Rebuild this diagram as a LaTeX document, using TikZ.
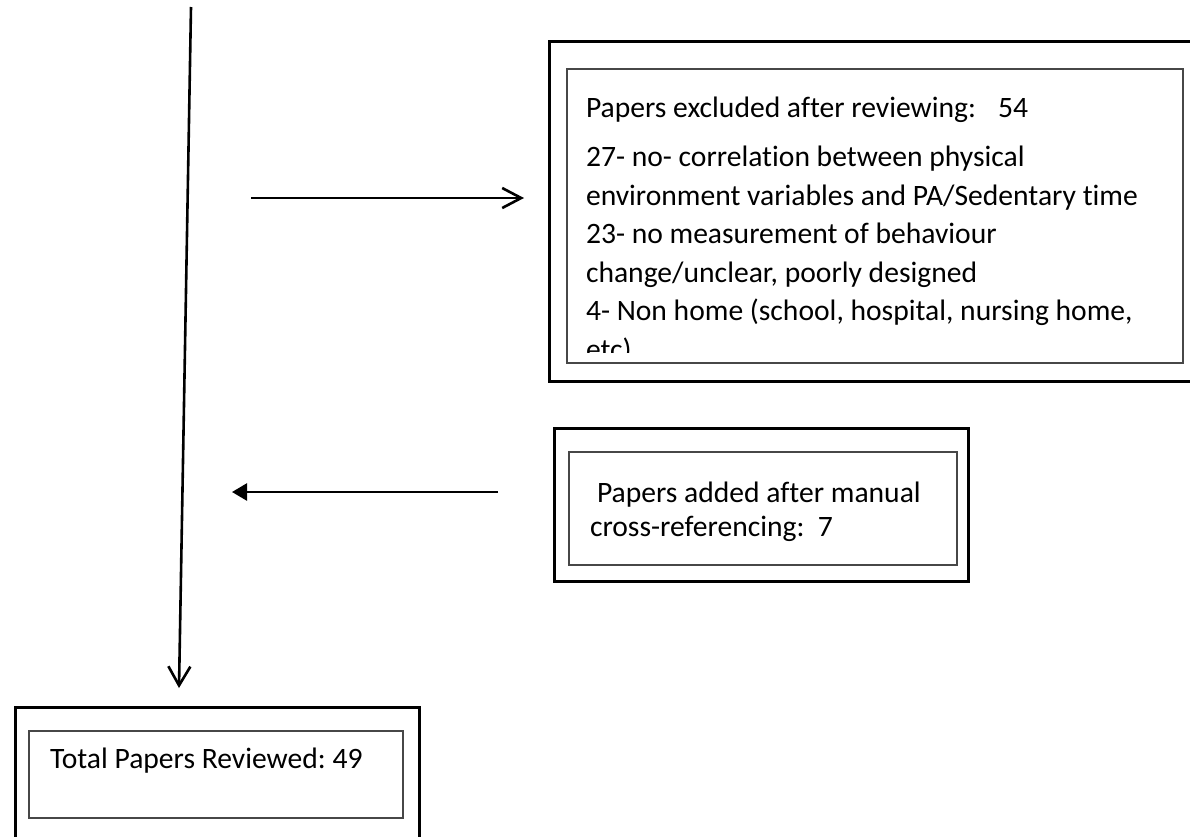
\documentclass[tikz,border=0pt]{standalone}
\usepackage{fontspec}
\setmainfont{Carlito}[Ligatures=NoCommon]
\usetikzlibrary{arrows.meta}
\frenchspacing
\begin{document}
\begin{tikzpicture}[x=1pt,y=-1pt,
  outerbox/.style={draw=black, line width=3pt, rectangle, inner sep=0pt, outer sep=0pt, anchor=north west},
  innerbox/.style={draw=black!72, line width=1.6pt, rectangle, inner sep=0pt, outer sep=0pt, anchor=north west},
  txt/.style={anchor=base west, inner sep=0pt, outer sep=0pt, font=\fontsize{29.6pt}{34pt}\selectfont},
  flow/.style={line width=2.6pt},
]
\useasboundingbox (0,0) rectangle (1190,836);

% exclusion box (double frame)
\node[outerbox, minimum width=651pt, minimum height=340pt] (exclOuter) at (549,41) {};
\node[innerbox, minimum width=616pt, minimum height=294pt] (exclInner) at (567,69) {};
\begin{scope}
  \clip (567,69) rectangle (1183,352);
  \node[txt] (exclTitle) at (586,117) {Papers excluded after reviewing:\hspace{22pt}54};
  \node[txt] (exclA) at (586,166) {27- no- correlation between physical};
  \node[txt] (exclB) at (586,205) {environment variables and PA/Sedentary time};
  \node[txt] (exclC) at (586,243) {23- no measurement of behaviour};
  \node[txt] (exclD) at (586,282) {change/unclear, poorly designed};
  \node[txt] (exclE) at (586,320) {4- Non home (school, hospital, nursing home,};
  \node[txt] (exclF) at (586,359) {etc)};
\end{scope}

% added papers box
\node[outerbox, minimum width=414pt, minimum height=153pt] (addOuter) at (554,428) {};
\node[innerbox, minimum width=388pt, minimum height=113pt] (addInner) at (569,452) {};
\node[txt] (addA) at (597,502) {Papers added after manual};
\node[txt] (addB) at (590,536) {cross-referencing:\ \ 7};

% total box
\node[outerbox, minimum width=404pt, minimum height=140pt] (totalOuter) at (15,707) {};
\node[innerbox, minimum width=374pt, minimum height=87pt] (totalInner) at (29,731) {};
\node[txt] (totalText) at (50,768) {Total Papers Reviewed: 49};

% connectors
\coordinate (mainTop) at (191,7);
\coordinate (mainEnd) at (179,688);
\coordinate (exclFrom) at (251,198);
\coordinate (exclTo) at (524,198);
\coordinate (addFrom) at (498,492);
\coordinate (addTo) at (232,492);

\draw[flow, -{Straight Barb[length=19pt,width=22pt]}] (mainTop) -- (mainEnd);
\draw[flow, -{Straight Barb[length=19pt,width=20pt]}] (exclFrom) -- (exclTo);
\draw[flow, -{Triangle[length=15pt,width=17pt]}] (addFrom) -- (addTo);
\end{tikzpicture}
\end{document}
